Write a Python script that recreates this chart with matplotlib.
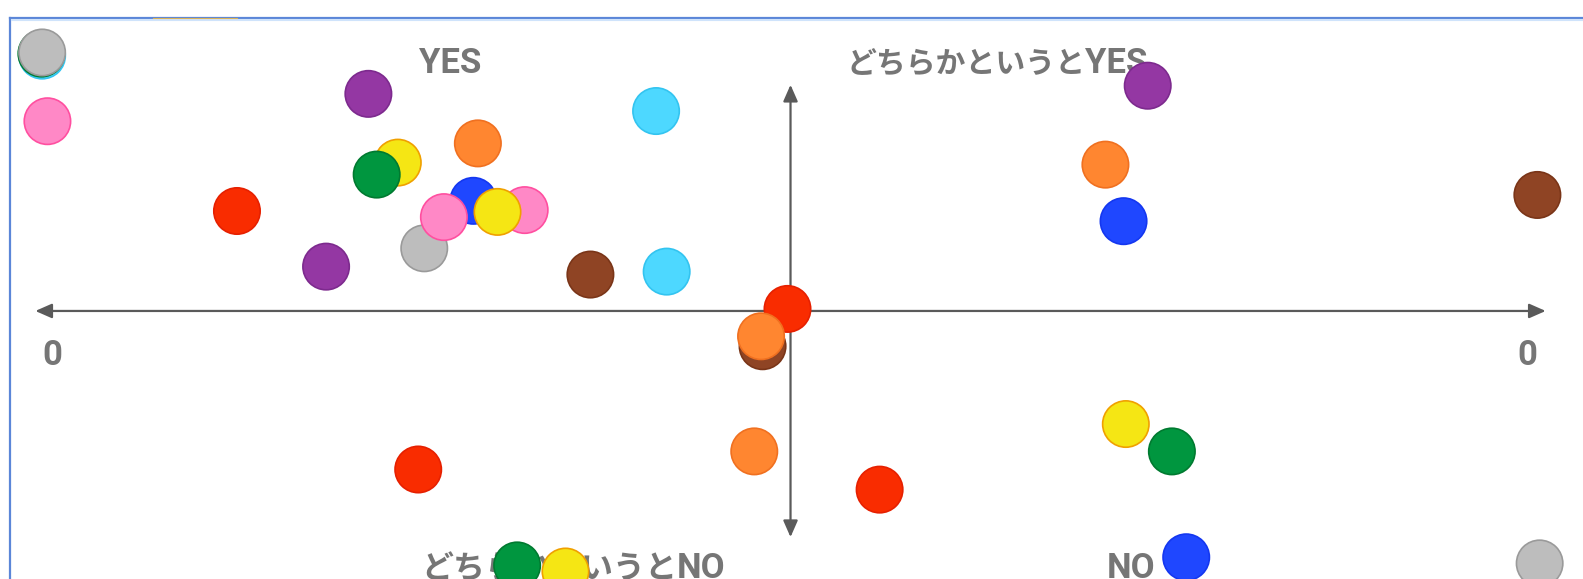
import matplotlib
matplotlib.use("Agg")
import matplotlib.pyplot as plt
from matplotlib.lines import Line2D

plt.rcParams['font.family'] = ['Noto Sans CJK JP', 'DejaVu Sans']

# points in draw order (later ones sit on top)
point_x = [-9.91, -9.92, -9.91, -9.84, -5.59, -1.78, -4.14, -5.20, -5.48, -7.33,
           -4.20, -4.85, -4.59, -3.52, -3.88, -6.15, -2.65, -1.64, -0.04, -0.37,
           -0.39, 4.73, 4.17, 4.41, 9.89, -4.93, -0.48, 1.18, 4.44, 5.05,
           5.24, 9.92, -3.62, -2.98]
point_y = [11.29, 11.38, 11.43, 8.39, 9.60, 8.84, 7.41, 6.56, 6.03, 4.42,
           4.87, 2.77, 4.15, 4.46, 4.38, 1.96, 1.61, 1.74, 0.09, -1.56,
           -1.12, 9.96, 6.47, 3.97, 5.13, -7.01, -6.21, -7.90, -5.00, -6.21,
           -10.89, -11.16, -11.25, -11.52]
point_color = ['cyan', 'green', 'gray', 'pink', 'purple', 'cyan', 'orange', 'yellow', 'green', 'red',
               'blue', 'gray', 'pink', 'pink', 'yellow', 'purple', 'brown', 'cyan', 'red', 'brown',
               'orange', 'purple', 'orange', 'blue', 'brown', 'red', 'orange', 'red', 'yellow', 'green',
               'blue', 'gray', 'green', 'yellow']

fill = {'gray': '#bdbdbd', 'pink': '#ff88c6', 'purple': '#9437a3', 'cyan': '#4dd8ff',
        'orange': '#ff8630', 'yellow': '#f5e614', 'green': '#00963f', 'red': '#f92c00',
        'blue': '#1f47ff', 'brown': '#8f4424'}
edge = {'gray': '#9a9a9a', 'pink': '#ff4fa0', 'purple': '#7d2a8e', 'cyan': '#33c4f0',
        'orange': '#f07020', 'yellow': '#f0a000', 'green': '#007a30', 'red': '#e62000',
        'blue': '#1437f0', 'brown': '#7a3518'}

# quadrant labels: japanese part (ends at x) + latin part (starts at x)
jp_labels = ['', 'どちらかというと', 'どちらかというと', '']
jp_sizes = [22, 21.5, 23, 22]
en_labels = ['YES', 'YES', 'NO', 'NO']
label_x = [-4.51, 3.90, -1.50, 4.19]
label_y = [10.52, 10.52, -11.81, -11.81]

zero_x = [-9.78, 9.75]
zero_y = [-2.39, -2.39]

fig = plt.figure(figsize=(15.83, 5.79), dpi=100)
ax = fig.add_axes([0, 0, 1, 1])
ax.set_xlim(-10.468, 10.494)
ax.set_ylim(-11.852, 13.75)
ax.axis('off')

# frame
fig.add_artist(Line2D([10 / 1583, 10 / 1583], [0, 1 - 17.5 / 579], color='#5b86d8', lw=1.6))
fig.add_artist(Line2D([10 / 1583, 1], [1 - 17.5 / 579, 1 - 17.5 / 579], color='#5b86d8', lw=1.6))
fig.add_artist(Line2D([12 / 1583, 1], [1 - 20 / 579, 1 - 20 / 579], color='#cfe3fb', lw=1.5))
fig.add_artist(Line2D([153 / 1583, 237 / 1583], [1 - 17.5 / 579, 1 - 17.5 / 579], color='#d9b25a', lw=0.8))

arrow = dict(arrowstyle='<|-|>,head_length=0.5,head_width=0.22', color='#5a5a5a',
             lw=1.6, mutation_scale=20, shrinkA=0, shrinkB=0)
ax.annotate('', xy=(10, 0), xytext=(-10, 0), arrowprops=arrow)
ax.annotate('', xy=(0, 10), xytext=(0, -10), arrowprops=arrow)

gray = '#767676'
latin = ['Roboto', 'DejaVu Sans']
for jp, fs, en, x, y in zip(jp_labels, jp_sizes, en_labels, label_x, label_y):
    if jp:
        ax.text(x, y, jp, ha='right', va='baseline', fontsize=fs, fontweight='bold',
                color=gray, zorder=2)
        ax.text(x, y, en, ha='left', va='baseline', fontsize=25, fontweight='bold',
                color=gray, family=latin, zorder=2)
    elif en == 'YES':
        ax.text(x, y, en, ha='center', va='baseline', fontsize=25, fontweight='bold',
                color=gray, family=latin, zorder=2)
    else:
        ax.text(x, y, en, ha='left', va='baseline', fontsize=25, fontweight='bold',
                color=gray, family=latin, zorder=2)

for x, y in zip(zero_x, zero_y):
    ax.text(x, y, '0', ha='center', va='baseline', fontsize=25, fontweight='bold',
            color=gray, family=latin, zorder=2)

ax.scatter(point_x, point_y, s=1115, c=[fill[c] for c in point_color],
           edgecolors=[edge[c] for c in point_color], linewidths=1.2, zorder=3)

fig.savefig('out.png', dpi=100)
